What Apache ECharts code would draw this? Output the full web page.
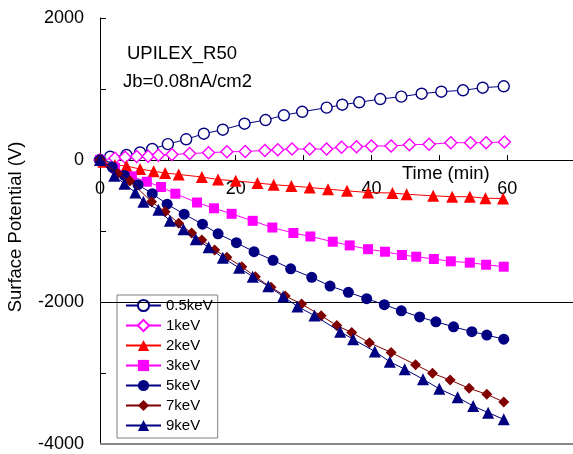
<!DOCTYPE html>
<html>
<head>
<meta charset="utf-8">
<script src="https://cdn.jsdelivr.net/npm/echarts@6/dist/echarts.min.js"></script>
<style>
  html, body { margin: 0; padding: 0; background: #fff; }
  #chart { width: 573px; height: 454px; }
</style>
</head>
<body>
<div id="chart"></div>
<script>
const FONT = '"Liberation Sans", Arial, sans-serif';

// Legend names, one per beam energy
const energyNames = ['0.5keV', '1keV', '2keV', '3keV', '5keV', '7keV', '9keV'];

// Time (min) and surface potential (V) for each beam energy
const t05 = [0, 1.5, 3.9, 5.9, 7.7, 10.0, 12.7, 15.3, 18.1, 21.3, 24.4, 27.1, 29.8, 33.4, 35.7, 38.2, 41.3, 44.4, 47.4, 50.3, 53.5, 56.4, 59.5];
const v05 = [0, 46, 70, 106, 155, 223, 292, 370, 427, 511, 563, 630, 679, 737, 779, 813, 859, 892, 934, 962, 982, 1018, 1038];

const t1 = [0, 2.2, 3.7, 5.4, 7.1, 8.6, 10.6, 13.2, 16.0, 18.7, 21.4, 24.3, 26.2, 28.3, 30.9, 33.4, 35.6, 37.8, 40.0, 42.9, 45.6, 48.5, 51.7, 54.6, 56.9, 59.6];
const v1 = [0, 24, 38, 49, 52, 68, 76, 90, 103, 115, 120, 134, 144, 154, 155, 155, 179, 187, 197, 197, 215, 221, 244, 244, 244, 254];

const t2 = [0, 0.5, 2.2, 3.9, 5.9, 7.9, 9.6, 11.6, 15.0, 17.4, 20.0, 23.2, 25.6, 28.2, 30.9, 33.6, 36.4, 39.5, 43.1, 45.2, 49.1, 51.9, 54.5, 56.8, 59.4];
const v2 = [0, -24, -70, -85, -127, -158, -183, -204, -239, -275, -293, -324, -348, -366, -387, -411, -434, -458, -465, -483, -504, -517, -517, -539, -542];

const t3 = [0, 2.2, 4.7, 6.9, 9.0, 11.1, 14.3, 16.8, 19.4, 22.5, 25.4, 28.5, 31.0, 34.3, 36.8, 39.5, 42.0, 44.5, 46.6, 49.2, 51.7, 54.5, 56.9, 59.5];
const v3 = [0, -110, -230, -306, -380, -475, -599, -680, -758, -857, -951, -1028, -1077, -1151, -1203, -1256, -1292, -1338, -1362, -1394, -1427, -1446, -1475, -1503];

const t5 = [0, 1.8, 3.6, 5.6, 7.7, 9.9, 12.4, 15.1, 17.4, 20.1, 22.7, 25.5, 28.1, 31.2, 33.9, 36.6, 39.3, 41.9, 44.4, 47.1, 49.5, 52.1, 54.8, 57.0, 59.5];
const v5 = [0, -100, -218, -348, -475, -622, -763, -904, -1040, -1165, -1292, -1413, -1532, -1652, -1775, -1863, -1953, -2038, -2124, -2211, -2279, -2349, -2418, -2465, -2524];

const t7 = [0, 2.6, 4.4, 7.6, 9.6, 11.6, 13.5, 15.0, 16.9, 18.7, 20.9, 22.9, 25.2, 27.3, 29.7, 32.6, 34.9, 37.1, 39.7, 42.9, 46.5, 49.0, 51.6, 54.4, 57.0, 59.5];
const v7 = [0, -190, -296, -587, -728, -892, -1028, -1127, -1268, -1370, -1503, -1644, -1793, -1915, -2028, -2193, -2331, -2430, -2573, -2711, -2883, -3004, -3099, -3216, -3300, -3408];

const t9 = [0, 2.1, 3.6, 5.2, 6.4, 8.6, 10.3, 12.3, 14.1, 16.0, 18.1, 20.5, 22.5, 24.8, 27.0, 29.1, 31.6, 35.4, 37.3, 40.5, 42.7, 44.9, 47.6, 50.0, 52.7, 55.0, 57.2, 59.5];
const v9 = [0, -223, -334, -458, -587, -700, -857, -975, -1115, -1228, -1378, -1518, -1644, -1777, -1921, -2063, -2190, -2418, -2525, -2696, -2841, -2946, -3087, -3223, -3342, -3465, -3559, -3652];

const times = [t05, t1, t2, t3, t5, t7, t9];
const values = [v05, v1, v2, v3, v5, v7, v9];

// Marker look per energy: [symbol, size, line colour, filled]
const looks = [
  ['circle', 11, '#000080', false],
  ['diamond', 12, '#FF00FF', false],
  ['triangle', 12, '#FF0000', true],
  ['rect', 10, '#FF00FF', true],
  ['circle', 11, '#000080', true],
  ['diamond', 11, '#800000', true],
  ['triangle', 12, '#000080', true]
];

// Plot box geometry: the time axis sits on the 0 V level
const GRID_TOP = 18, GRID_H = 426, Y_MIN = -4000, Y_MAX = 2000;
const zeroOffset = -GRID_H * (0 - Y_MIN) / (Y_MAX - Y_MIN);

const pairs = (ts, vs) => ts.map((t, i) => [t, vs[i]]);

const series = energyNames.map((name, i) => {
  const [symbol, size, color, filled] = looks[i];
  const s = {
    name: name,
    type: 'line',
    data: pairs(times[i], values[i]),
    symbol: symbol,
    symbolSize: size,
    showAllSymbol: true,
    lineStyle: { color: color, width: 1 },
    itemStyle: filled
      ? { color: color, borderColor: color, borderWidth: 0 }
      : { color: '#ffffff', borderColor: color, borderWidth: 1.4 },
    emphasis: { disabled: true },
    z: 2 + i
  };
  if (i === 0) {
    s.markLine = {
      silent: true,
      symbol: 'none',
      label: { show: false },
      animation: false,
      data: [
        { yAxis: -2000, lineStyle: { color: '#000', width: 1, type: 'solid' } },
        { yAxis: -4000, lineStyle: { color: '#888', width: 2, type: 'solid' } }
      ]
    };
  }
  return s;
});

const chart = echarts.init(document.getElementById('chart'), null, { renderer: 'canvas' });
chart.setOption({
  animation: false,
  backgroundColor: '#fff',
  textStyle: { fontFamily: FONT },
  grid: { left: 100, top: GRID_TOP, width: 475, height: GRID_H, containLabel: false, outerBoundsMode: 'none' },
  xAxis: {
    type: 'value',
    position: 'bottom',
    offset: zeroOffset,
    min: 0, max: 70, interval: 10,
    axisLine: { onZero: false, lineStyle: { color: '#000', width: 1 } },
    axisTick: { inside: true, length: 5, lineStyle: { color: '#000' } },
    axisLabel: {
      margin: 20, color: '#000', fontSize: 18, fontFamily: FONT,
      formatter: v => (v % 20 === 0 && v <= 60) ? String(v) : ''
    },
    splitLine: { show: false }
  },
  yAxis: {
    type: 'value',
    min: Y_MIN, max: Y_MAX, interval: 1000,
    axisLine: { show: true, onZero: false, lineStyle: { color: '#000', width: 1 } },
    axisTick: { show: true, inside: true, length: 6, lineStyle: { color: '#000' } },
    axisLabel: {
      margin: 16, color: '#000', fontSize: 18, fontFamily: FONT,
      formatter: v => (v % 2000 === 0) ? String(v) : ''
    },
    splitLine: { show: false }
  },
  legend: {
    data: energyNames,
    orient: 'vertical',
    left: 117, top: 295,
    padding: [3, 5, 5, 8],
    itemWidth: 35, itemHeight: 14, itemGap: 5,
    backgroundColor: '#fff',
    borderColor: '#808080', borderWidth: 1,
    textStyle: { fontSize: 15, lineHeight: 15, color: '#000', fontFamily: FONT },
    selectedMode: false
  },
  graphic: [
    { type: 'text', z: 10, style: { x: 127, y: 54, text: 'UPILEX_R50', fontSize: 18.5, fontFamily: FONT, fill: '#000', verticalAlign: 'middle' } },
    { type: 'text', z: 10, style: { x: 123, y: 82, text: 'Jb=0.08nA/cm2', fontSize: 18.5, fontFamily: FONT, fill: '#000', verticalAlign: 'middle' } },
    { type: 'text', z: 10, style: { x: 402, y: 174, text: 'Time (min)', fontSize: 18.5, fontFamily: FONT, fill: '#000', verticalAlign: 'middle' } },
    { type: 'text', z: 10, x: 16, y: 227, rotation: Math.PI / 2, style: { x: 0, y: 0, text: 'Surface Potential (V)', fontSize: 18.5, fontFamily: FONT, fill: '#000', align: 'center', verticalAlign: 'middle' } }
  ],
  series: series
});
</script>
</body>
</html>
